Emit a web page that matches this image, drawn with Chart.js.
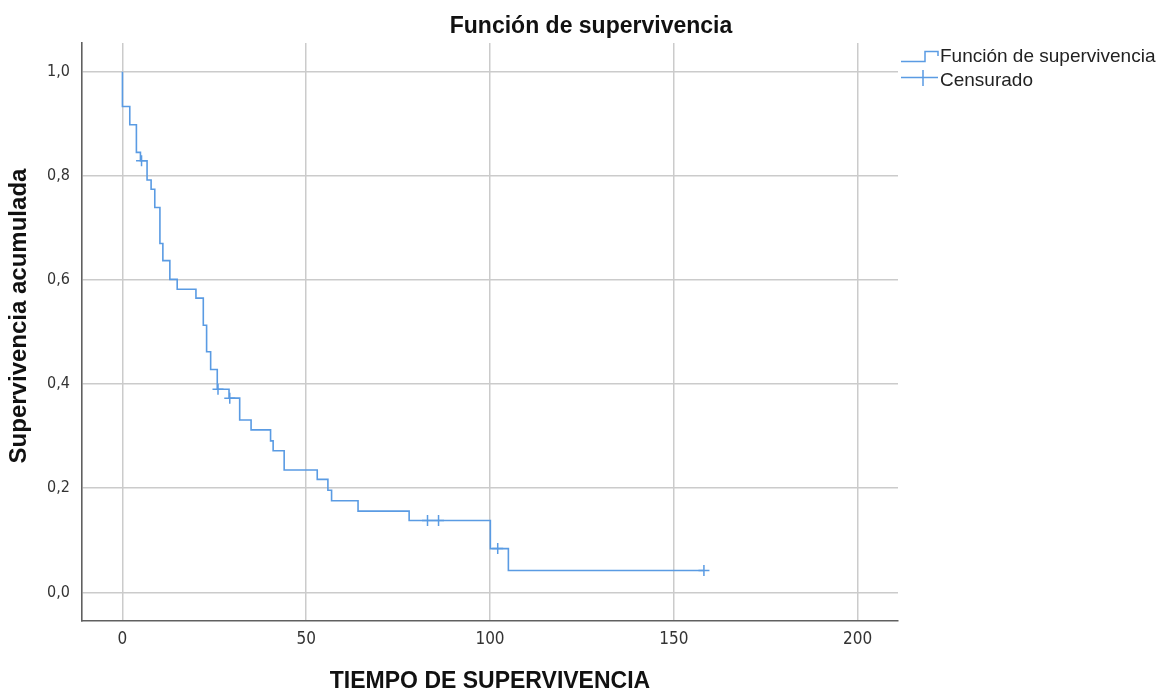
<!DOCTYPE html>
<html>
<head>
<meta charset="utf-8">
<script src="https://cdn.jsdelivr.net/npm/chart.js@4.4.1/dist/chart.umd.min.js"></script>
<style>
  html, body { margin: 0; padding: 0; background: #fff; }
  #wrap { width: 1160px; height: 693px; }
</style>
</head>
<body>
<div id="wrap"><canvas id="km"></canvas></div>
<script>
// ========== DATA ==========
// Kaplan-Meier steps: time of each event and survival right after it
const stepTimes = [0, 0, 2.0, 3.8, 4.9, 6.7, 7.8, 8.8, 10.2, 11.0, 12.9, 14.9, 20.0, 22.0, 22.9, 24.0, 25.8, 29.0, 31.9, 35.0, 40.3, 41.0, 44.0, 53.0, 55.9, 56.9, 64.1, 78.0, 100.1, 105.0, 158.2];
const stepSurv  = [1.0, 0.933, 0.898, 0.845, 0.829, 0.792, 0.774, 0.739, 0.670, 0.637, 0.601, 0.582, 0.565, 0.513, 0.462, 0.428, 0.390, 0.373, 0.331, 0.312, 0.291, 0.272, 0.235, 0.217, 0.196, 0.176, 0.156, 0.138, 0.084, 0.042, 0.042];

// censored cases
const censTimes = [5.2, 26.0, 29.2, 83.0, 86.0, 102.1, 158.2];
const censSurv  = [0.829, 0.390, 0.373, 0.138, 0.138, 0.084, 0.042];

const xTicks = [0, 50, 100, 150, 200];
const yTicks = [0, 0.2, 0.4, 0.6, 0.8, 1.0];

const chartTitle = 'Función de supervivencia';
const xTitle = 'TIEMPO DE SUPERVIVENCIA';
const yTitle = 'Supervivencia acumulada';
const legendLabels = ['Función de supervivencia', 'Censurado'];

// ========== STYLE ==========
const BLUE = '#5a9be3';
const GRID = '#cbcbcb';
const AXIS = '#606060';
const NARROW = '"Liberation Sans Narrow", "DejaVu Sans Condensed", "Liberation Sans", Arial, sans-serif';
const SANS = '"Liberation Sans", Arial, sans-serif';

const stepPoints = stepTimes.map((t, i) => ({ x: t, y: stepSurv[i] }));
const censPoints = censTimes.map((t, i) => ({ x: t, y: censSurv[i] }));

// titles + legend drawn on top of the chart
const decorations = {
    id: 'decorations',
    afterDraw(chart) {
        const ctx = chart.ctx;
        ctx.save();
        ctx.fillStyle = '#111';
        ctx.textAlign = 'center';
        ctx.textBaseline = 'alphabetic';

        ctx.font = 'bold 23px ' + SANS;
        ctx.fillText(chartTitle, 591, 33);

        ctx.font = 'bold 23px ' + SANS;
        ctx.fillText(xTitle, 490, 688);

        ctx.save();
        ctx.translate(26, 316);
        ctx.rotate(-Math.PI / 2);
        ctx.font = 'bold 24px ' + SANS;
        ctx.fillText(yTitle, 0, 0);
        ctx.restore();

        // legend
        ctx.strokeStyle = BLUE;
        ctx.lineWidth = 1.5;
        ctx.beginPath();
        ctx.moveTo(901, 61.5);
        ctx.lineTo(925, 61.5);
        ctx.lineTo(925, 51.5);
        ctx.lineTo(938, 51.5);
        ctx.lineTo(938, 56);
        ctx.stroke();

        ctx.beginPath();
        ctx.moveTo(901, 77.5);
        ctx.lineTo(938, 77.5);
        ctx.moveTo(923, 70);
        ctx.lineTo(923, 86);
        ctx.stroke();

        ctx.fillStyle = '#222';
        ctx.textAlign = 'left';
        ctx.textBaseline = 'middle';
        ctx.font = '19px ' + SANS;
        ctx.fillText(legendLabels[0], 940, 57);
        ctx.fillText(legendLabels[1], 940, 81);
        ctx.restore();
    }
};

new Chart(document.getElementById('km'), {
    type: 'scatter',
    data: {
        datasets: [
            {
                label: legendLabels[0],
                data: stepPoints,
                type: 'line',
                stepped: 'before',
                borderColor: BLUE,
                borderWidth: 1.6,
                pointRadius: 0,
                fill: false
            },
            {
                label: legendLabels[1],
                data: censPoints,
                showLine: false,
                pointStyle: 'cross',
                pointRadius: 5.5,
                borderColor: BLUE,
                borderWidth: 1.5
            }
        ]
    },
    plugins: [decorations],
    options: {
        responsive: true,
        maintainAspectRatio: false,
        animation: false,
        layout: { padding: { left: 0, right: 262, top: 43, bottom: 0 } },
        plugins: {
            legend: { display: false },
            title: { display: false },
            tooltip: { enabled: false }
        },
        scales: {
            x: {
                type: 'linear',
                min: -11,
                max: 211,
                afterBuildTicks: s => { s.ticks = xTicks.map(v => ({ value: v })); },
                afterFit: s => { s.height = 72; },
                grid: { color: GRID, lineWidth: 1.5, drawTicks: false },
                border: { display: true, color: AXIS, width: 1.6 },
                ticks: {
                    padding: 8,
                    color: '#333',
                    font: { family: NARROW, size: 17 },
                    callback: v => String(v)
                }
            },
            y: {
                type: 'linear',
                min: -0.055,
                max: 1.055,
                afterBuildTicks: s => { s.ticks = yTicks.map(v => ({ value: v })); },
                afterFit: s => { s.width = 82; },
                grid: { color: GRID, lineWidth: 1.5, drawTicks: false },
                border: { display: true, color: AXIS, width: 1.6 },
                ticks: {
                    padding: 12,
                    color: '#333',
                    font: { family: NARROW, size: 16 },
                    callback: v => v.toFixed(1).replace('.', ',')
                }
            }
        }
    }
});
</script>
</body>
</html>
